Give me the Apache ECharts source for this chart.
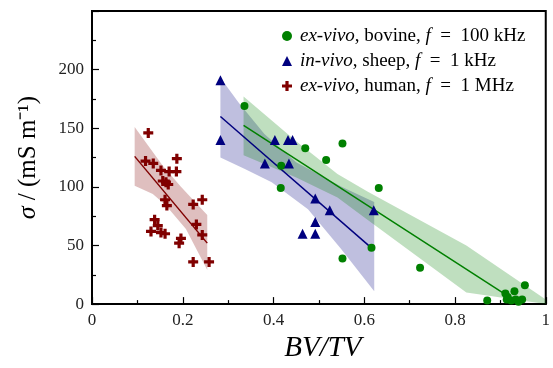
<!DOCTYPE html>
<html>
<head>
<meta charset="utf-8">
<script src="https://cdn.jsdelivr.net/npm/echarts@6/dist/echarts.min.js"></script>
<style>
  html, body { margin: 0; padding: 0; background: #fff; }
  #chart { width: 553px; height: 368px; }
</style>
</head>
<body>
<div id="chart"></div>
<script>
const FONT = "Liberation Serif";

// measured points, BV/TV vs sigma (mS/m)
const bovinePts = [
  [0.336, 169], [0.552, 137], [0.470, 133], [0.516, 123], [0.417, 118],
  [0.416, 99], [0.632, 99], [0.616, 48], [0.552, 39], [0.723, 31],
  [0.954, 16], [0.871, 3], [0.911, 9], [0.931, 11], [0.914, 4],
  [0.924, 3], [0.934, 4], [0.948, 4], [0.940, 2], [0.916, 6]
];
const sheepPts = [
  [0.283, 191], [0.283, 140], [0.403, 140], [0.432, 140], [0.442, 140],
  [0.381, 120], [0.434, 120], [0.492, 90], [0.524, 80], [0.492, 70],
  [0.464, 60], [0.492, 60], [0.621, 80]
];
const humanPts = [
  [0.124, 146], [0.118, 122], [0.135, 120], [0.187, 124], [0.152, 114],
  [0.170, 113], [0.186, 113], [0.156, 105], [0.163, 104], [0.168, 102],
  [0.161, 89], [0.165, 84], [0.223, 85], [0.243, 89], [0.138, 72],
  [0.145, 67], [0.130, 62], [0.152, 61], [0.161, 60], [0.230, 68],
  [0.243, 59], [0.196, 56], [0.192, 52], [0.223, 36], [0.258, 36]
];

// fitted lines (end points)
const bovineFit = [[0.334, 152.5], [0.910, 8.5]];
const sheepFit = [[0.283, 160], [0.617, 47.5]];
const humanFit = [[0.094, 126], [0.254, 52]];

// confidence bands, upper and lower edges
const bovineUpper = [[0.334, 177], [0.45, 139], [0.541, 111], [0.607, 96], [0.825, 50], [1.0, 4]];
const bovineLower = [[0.334, 127], [0.45, 108], [0.541, 91], [0.607, 72], [0.825, 10], [1.0, -32]];
const sheepUpper = [[0.283, 193], [0.323, 172], [0.38, 145], [0.45, 121], [0.55, 100], [0.622, 87]];
const sheepLower = [[0.283, 125], [0.338, 115], [0.396, 104], [0.476, 81], [0.549, 47], [0.622, 11]];
const humanUpper = [[0.094, 151], [0.156, 118], [0.196, 100], [0.254, 76]];
const humanLower = [[0.094, 101], [0.134, 94], [0.163, 84], [0.207, 64], [0.254, 29]];

const GREEN = "#008000", NAVY = "#00007f", DRED = "#800000";
const CROSS = "path://M3.4,0H6.6V3.4H10V6.6H6.6V10H3.4V6.6H0V3.4H3.4Z";

const names = ["bovine", "sheep", "human"];
const legendText = {
  bovine: "{i|ex-vivo}, bovine, {i|f}  =  100 kHz",
  sheep: "{i|in-vivo}, sheep, {i|f}  =  1 kHz",
  human: "{i|ex-vivo}, human, {i|f}  =  1 MHz"
};

function band(upper, lower, color) {
  return {
    type: "custom",
    silent: true,
    z: 1,
    data: [upper[0]],
    renderItem: (params, api) => {
      const pts = upper.map(p => api.coord(p))
        .concat(lower.slice().reverse().map(p => api.coord(p)));
      const cs = params.coordSys;
      return {
        type: "polygon",
        shape: { points: echarts.graphic.clipPointsByRect(pts, { x: cs.x, y: cs.y, width: cs.width, height: cs.height }) },
        style: { fill: color, opacity: 0.25 }
      };
    }
  };
}

function fit(data, color) {
  return {
    type: "line", data: data, showSymbol: false, silent: true, z: 2,
    lineStyle: { color: color, width: 1.5 }
  };
}

const chart = echarts.init(document.getElementById("chart"));

chart.setOption({
  animation: false,
  textStyle: { fontFamily: FONT },
  grid: { left: 92, right: 3, top: 11, bottom: 62, show: true, borderColor: "#000", borderWidth: 2 },
  legend: {
    data: [
      { name: "bovine", icon: "circle" },
      { name: "sheep", icon: "triangle" },
      { name: "human", icon: CROSS }
    ],
    orient: "vertical",
    left: 277, top: 21,
    itemWidth: 10, itemHeight: 10, itemGap: 5,
    formatter: n => legendText[n],
    textStyle: {
      fontFamily: FONT, fontSize: 19, color: "#000", lineHeight: 20, padding: [0, 0, 0, 3],
      rich: { i: { fontFamily: FONT, fontStyle: "italic", fontSize: 19, color: "#000" } }
    }
  },
  xAxis: {
    type: "value", min: 0, max: 1, interval: 0.2,
    name: "BV/TV", nameLocation: "middle", nameGap: 22,
    nameTextStyle: { fontFamily: FONT, fontStyle: "italic", fontSize: 29, color: "#000", padding: [0, 0, 0, 8] },
    axisLine: { lineStyle: { color: "#000", width: 2 } },
    axisTick: { inside: true, length: 7, lineStyle: { color: "#000", width: 1.2 } },
    minorTick: { show: true, splitNumber: 2, length: 4, lineStyle: { color: "#000", width: 1.2 } },
    splitLine: { show: false },
    axisLabel: {
      fontFamily: FONT, fontSize: 17, color: "#222", margin: 8,
      formatter: v => (v === 0 || v === 1) ? String(v) : v.toFixed(1)
    }
  },
  yAxis: {
    type: "value", min: 0, max: 250, interval: 50,
    name: "{i|σ} / (mS m⁻¹)", nameLocation: "middle", nameGap: 51, nameRotate: 90,
    nameTextStyle: {
      fontFamily: FONT, fontSize: 25, color: "#000",
      rich: { i: { fontFamily: FONT, fontStyle: "italic", fontSize: 26, color: "#000" } }
    },
    axisLine: { lineStyle: { color: "#000", width: 2 } },
    axisTick: { inside: true, length: 7, lineStyle: { color: "#000", width: 1.2 } },
    minorTick: { show: true, splitNumber: 2, length: 4, lineStyle: { color: "#000", width: 1.2 } },
    splitLine: { show: false },
    axisLabel: {
      fontFamily: FONT, fontSize: 17, color: "#222", margin: 8,
      formatter: v => v === 250 ? "" : String(v)
    }
  },
  series: [
    band(sheepUpper, sheepLower, NAVY),
    band(bovineUpper, bovineLower, GREEN),
    band(humanUpper, humanLower, DRED),
    fit(sheepFit, NAVY),
    fit(bovineFit, GREEN),
    fit(humanFit, DRED),
    {
      name: names[0], type: "scatter", data: bovinePts, z: 3,
      symbol: "circle", symbolSize: 8, itemStyle: { color: GREEN, opacity: 1 }
    },
    {
      name: names[1], type: "scatter", data: sheepPts, z: 3,
      symbol: "triangle", symbolSize: 10, itemStyle: { color: NAVY, opacity: 1 }
    },
    {
      name: names[2], type: "scatter", data: humanPts, z: 3,
      symbol: CROSS, symbolSize: 10, itemStyle: { color: DRED, opacity: 1 }
    }
  ]
});
</script>
</body>
</html>
